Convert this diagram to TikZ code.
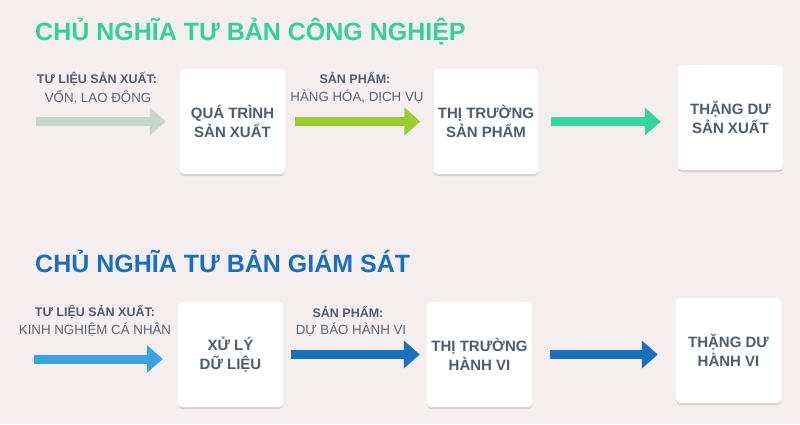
\documentclass[tikz,border=0pt]{standalone}
\usepackage{fontspec}
\setmainfont{Liberation Sans}
\usetikzlibrary{arrows.meta,shadows}
\definecolor{bgcol}{HTML}{F4EEEF}
\definecolor{greentitle}{HTML}{34D09C}
\definecolor{bluetitle}{HTML}{1B6EBE}
\definecolor{arrgrey}{HTML}{C4D6CE}
\definecolor{arrlime}{HTML}{97CE2E}
\definecolor{arrteal}{HTML}{36D49F}
\definecolor{arrsky}{HTML}{3AA3E2}
\definecolor{arrblue}{HTML}{1C6FBD}
\definecolor{boxtext}{HTML}{505C6C}
\definecolor{lbltext}{HTML}{5C6674}
\tikzset{
  sectitle/.style={anchor=base west, inner sep=0pt, font=\fontsize{25}{30}\selectfont\bfseries},
  card/.style={draw=none, fill=white, rounded corners=4pt, minimum width=105pt, minimum height=105pt, inner sep=0pt,
    drop shadow={shadow xshift=0pt, shadow yshift=-2pt, opacity=0.22, fill=black!60},
    text=boxtext, align=center, font=\fontsize{15}{19}\selectfont\bfseries},
  lblbold/.style={inner sep=0pt, text=boxtext, font=\fontsize{12.5}{14}\selectfont\bfseries},
  lblreg/.style={inner sep=0pt, text=lbltext, font=\fontsize{13.3}{14}\selectfont},
  fatarrow/.style={line width=9pt, line cap=butt, -{Triangle[length=16pt,width=27pt]}},
}
\begin{document}
\begin{tikzpicture}[x=1pt,y=-1pt]
\fill[bgcol] (0,0) rectangle (800,424);
\useasboundingbox (0,0) rectangle (800,424);

% ---------- top section ----------
\node[sectitle, text=greentitle] (t1) at (35,40) {CHỦ NGHĨA TƯ BẢN CÔNG NGHIỆP};

\node[card] (a1) at (232.5,121.5) {QUÁ TRÌNH\\SẢN XUẤT};
\node[card] (a2) at (486,121.5) {THỊ TRƯỜNG\\SẢN PHẨM};
\node[card] (a3) at (730.5,117.5) {THẶNG DƯ\\SẢN XUẤT};

\node[lblbold] (la1) at (97,79) {TƯ LIỆU SẢN XUẤT:};
\node[lblreg] (la2) at (98,98) {VỐN, LAO ĐỘNG};
\node[lblbold] (la3) at (355,78) {SẢN PHẨM:};
\node[lblreg] (la4) at (357,97) {HÀNG HÓA, DỊCH VỤ};

\coordinate (s1) at (36,121.5);
\draw[fatarrow, arrgrey, shorten >=14pt] (s1) -- (a1.west);
\draw[fatarrow, arrlime, shorten <=10pt, shorten >=13pt] (a1.east) -- (a2.west);
\draw[fatarrow, arrteal, shorten <=12pt, shorten >=17pt] (a2.east) -- (a3.west |- a2.east);

% ---------- bottom section ----------
\node[sectitle, text=bluetitle] (t2) at (35,272) {CHỦ NGHĨA TƯ BẢN GIÁM SÁT};

\node[card] (b1) at (230.5,354.5) {XỬ LÝ\\DỮ LIỆU};
\node[card] (b2) at (479.5,354.5) {THỊ TRƯỜNG\\HÀNH VI};
\node[card] (b3) at (728.5,350.5) {THẶNG DƯ\\HÀNH VI};

\node[lblbold] (lb1) at (95,312) {TƯ LIỆU SẢN XUẤT:};
\node[lblreg] (lb2) at (95,330) {KINH NGHIỆM CÁ NHÂN};
\node[lblbold] (lb3) at (348,312) {SẢN PHẨM:};
\node[lblreg] (lb4) at (351,330) {DỰ BÁO HÀNH VI};

\coordinate (s2) at (34,359);
\draw[fatarrow, arrsky, shorten >=15pt] (s2) -- (b1.west |- s2);
\draw[fatarrow, arrblue, shorten <=8pt, shorten >=7pt] (b1.east) -- (b2.west);
\draw[fatarrow, arrblue, shorten <=18pt, shorten >=18pt] (b2.east) -- (b3.west |- b2.east);
\end{tikzpicture}
\end{document}
